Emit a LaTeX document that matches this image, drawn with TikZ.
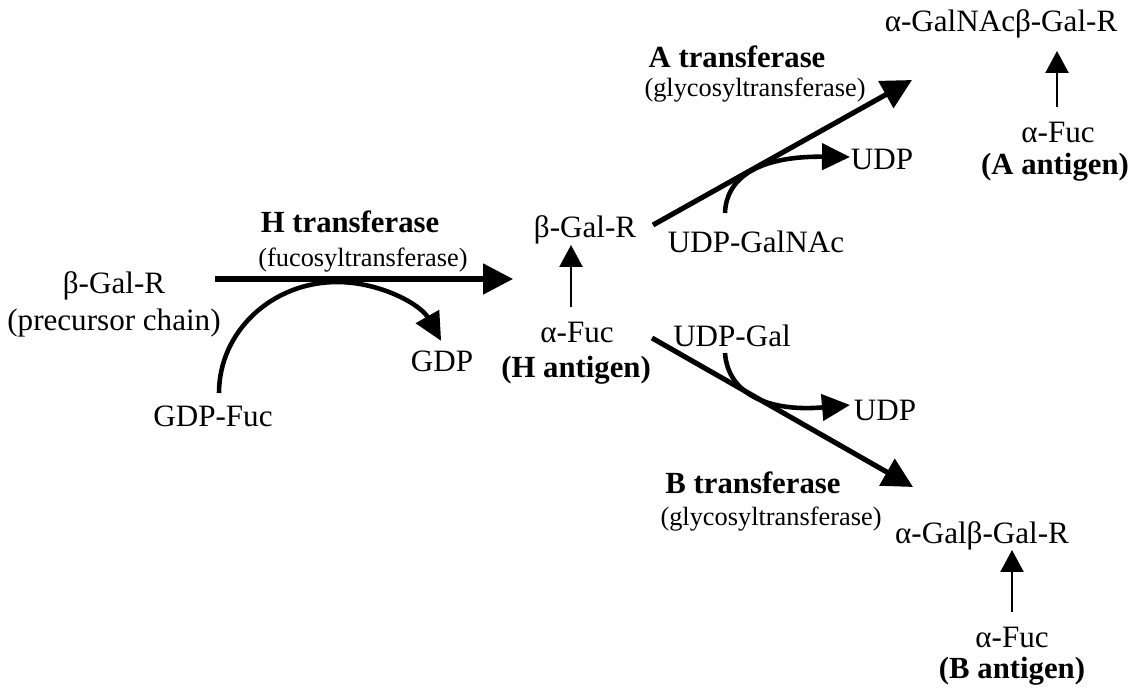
\documentclass[tikz,border=0pt]{standalone}
\usepackage{fontspec}
\setmainfont{Liberation Serif}
\usepackage{tikz}
\usetikzlibrary{arrows.meta,calc}

\begin{document}
\begin{tikzpicture}[x=0.02cm,y=-0.02cm,
    mol/.style={font=\fontsize{17.7}{21}\selectfont,anchor=base,inner sep=0pt},
    enz/.style={font=\fontsize{17.5}{21}\selectfont\bfseries,anchor=base,inner sep=0pt},
    enzsub/.style={font=\fontsize{15}{18}\selectfont,anchor=base,inner sep=0pt},
    react/.style={line width=2.9pt,-{Triangle[length=0.6cm,width=0.6cm]}},
    donor/.style={line width=2.6pt,-{Triangle[length=0.56cm,width=0.52cm]}},
    fucarrow/.style={line width=1.3pt,-{Triangle[length=0.44cm,width=0.46cm]}}]
  \useasboundingbox (0,0) rectangle (1131,688);

  % Precursor and H transferase step
  \node[mol] (precursor) at (114,294) {β-Gal-R};
  \node[mol] (precursorlbl) at (114,331) {(precursor chain)};
  \node[enz] (henz) at (350,233) {H transferase};
  \node[enzsub] (henzsub) at (363,267) {(fucosyltransferase)};
  \node[mol] (gdpfuc) at (213,427) {GDP-Fuc};
  \node[mol] (gdp) at (442,372) {GDP};

  \coordinate (hstart) at (215,279);
  \coordinate (hend) at (513,279);
  \draw[react] (hstart) -- (hend);
  \draw[donor] (219,393) arc[start angle=180,end angle=28,x radius=2.36cm,y radius=2.22cm];

  % H antigen
  \node[mol] (hgal) at (585,238) {β-Gal-R};
  \node[mol] (hfuc) at (577,343) {α-Fuc};
  \node[enz] (hantigen) at (576,378) {(H antigen)};
  \draw[fucarrow] ($(hfuc.north)+(-6,-15)$) -- ($(hfuc.north |- hgal.south)+(-6,0)$);

  % A transferase branch
  \node[enz] (aenz) at (737,68) {A transferase};
  \node[enzsub] (aenzsub) at (755,97) {(glycosyltransferase)};
  \node[mol] (udpgalnac) at (756,253) {UDP-GalNAc};
  \node[mol] (audp) at (882,170) {UDP};
  \node[mol] (aprod) at (1001,32) {α-GalNAcβ-Gal-R};
  \node[mol] (afuc) at (1058,143) {α-Fuc};
  \node[enz] (aantigen) at (1055,175) {(A antigen)};

  \coordinate (astart) at (653,225);
  \coordinate (aend) at (912,80);
  \draw[react] (astart) -- (aend);
  \draw[donor] (725,213) .. controls (726,180) and (755,156) .. (850,157);
  \draw[fucarrow] ($(afuc.north)+(-1,-15)$) -- ($(afuc.north |- aprod.south)+(-1,12)$);

  % B transferase branch
  \node[mol] (udpgal) at (732,347) {UDP-Gal};
  \node[mol] (budp) at (885,420) {UDP};
  \node[enz] (benz) at (753,493) {B transferase};
  \node[enzsub] (benzsub) at (771,525) {(glycosyltransferase)};
  \node[mol] (bprod) at (982,543) {α-Galβ-Gal-R};
  \node[mol] (bfuc) at (1012,647) {α-Fuc};
  \node[enz] (bantigen) at (1012,678) {(B antigen)};

  \coordinate (bstart) at (652,338);
  \coordinate (bend) at (913,487);
  \draw[react] (bstart) -- (bend);
  \draw[donor] (725,353) .. controls (728,395) and (770,412) .. (850,405);
  \draw[fucarrow] ($(bfuc.north)+(0,-14)$) -- (bfuc.north |- bprod.south);
\end{tikzpicture}
\end{document}
